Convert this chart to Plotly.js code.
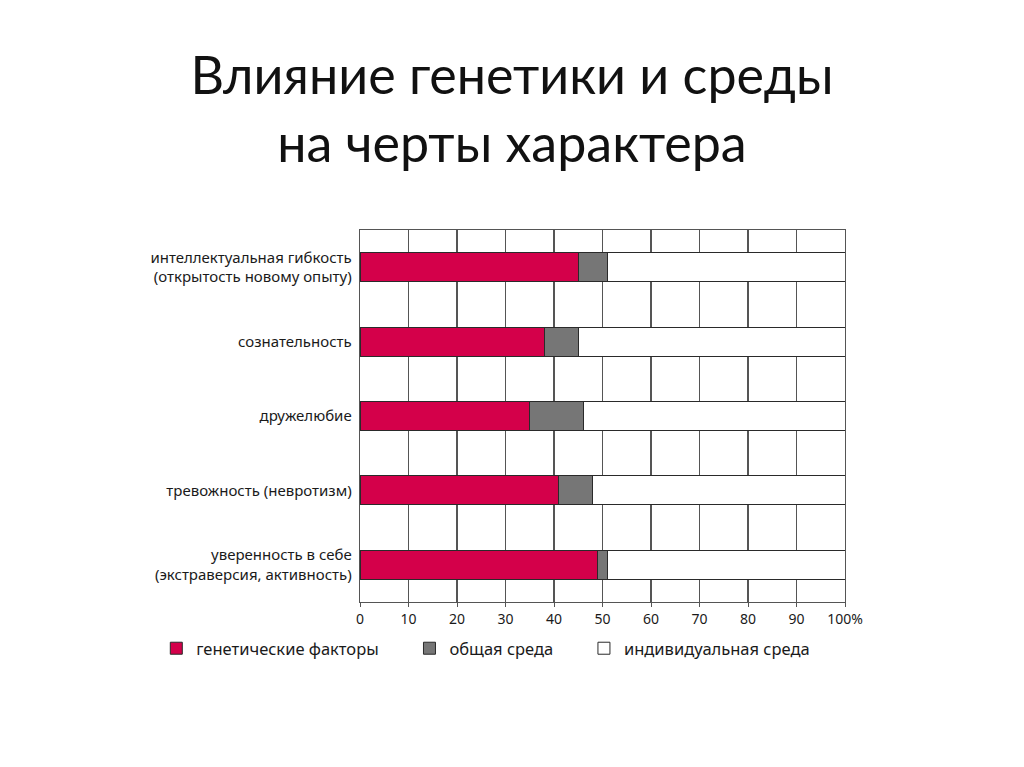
<!DOCTYPE html>
<html>
<head>
<meta charset="utf-8">
<script src="https://cdn.plot.ly/plotly-3.0.1.min.js"></script>
<style>
  html, body { margin: 0; padding: 0; background: #fff; }
  #plot { width: 1024px; height: 767px; }
</style>
</head>
<body>
<div id="plot"></div>
<script>
// черты характера, сверху вниз
var traits = [
  "интеллектуальная гибкость<br>(открытость новому опыту)",
  "сознательность",
  "дружелюбие",
  "тревожность (невротизм)",
  "уверенность в себе<br>(экстраверсия, активность)"
];
// доли в процентах
var genetic = [45, 38, 35, 41, 49];
var shared = [6, 7, 11, 7, 2];
var individual = [49, 55, 54, 52, 49];

var tickVals = [0, 10, 20, 30, 40, 50, 60, 70, 80, 90, 100];
var tickText = ["0", "10", "20", "30", "40", "50", "60", "70", "80", "90", "100%"];

var outline = { color: "#2a2a2a", width: 1 };
var pad = "\u00a0\u00a0\u00a0\u00a0\u00a0\u00a0"; // отступ между пунктами легенды

var trGen = {
  y: traits, x: genetic, name: "генетические факторы" + pad,
  type: "bar", orientation: "h",
  marker: { color: "#d4004a", line: outline },
  hoverinfo: "x+name"
};
var trShared = {
  y: traits, x: shared, name: "общая среда" + pad,
  type: "bar", orientation: "h",
  marker: { color: "#767676", line: outline },
  hoverinfo: "x+name"
};
var trInd = {
  y: traits, x: individual, name: "индивидуальная среда",
  type: "bar", orientation: "h",
  marker: { color: "#ffffff", line: outline },
  hoverinfo: "x+name"
};

var layout = {
  width: 1024, height: 767,
  paper_bgcolor: "#fff", plot_bgcolor: "#fff",
  margin: { l: 360, r: 179, t: 230, b: 165 },
  barmode: "stack",
  bargap: 0.61,
  font: { family: "Noto Sans, sans-serif", color: "#1a1a1a" },
  title: {
    text: "Влияние генетики и среды<br>на черты характера",
    font: { family: "Lato, sans-serif", size: 52, color: "#111" },
    x: 0.5, xref: "container", xanchor: "center",
    y: 0.877, yref: "container", yanchor: "top",
    pad: { t: 0, b: 0, l: 0, r: 0 }
  },
  xaxis: {
    range: [0, 100],
    tickvals: tickVals, ticktext: tickText,
    showgrid: true, gridcolor: "#555", gridwidth: 1.3,
    showline: true, linecolor: "#555", linewidth: 1.3, mirror: true,
    ticks: "outside", ticklen: 4, tickcolor: "#555",
    tickfont: { size: 14, color: "#1a1a1a" },
    zeroline: false, fixedrange: true
  },
  yaxis: {
    range: [4.5, -0.5],
    showgrid: false,
    showline: true, linecolor: "#555", linewidth: 1.3, mirror: true,
    ticks: "", ticklabelstandoff: 4,
    tickfont: { size: 15, color: "#1a1a1a" },
    zeroline: false, fixedrange: true
  },
  showlegend: true,
  legend: {
    orientation: "h",
    x: -0.42, xanchor: "left",
    y: -0.125, yanchor: "middle",
    font: { size: 16.5, color: "#1a1a1a" },
    traceorder: "normal",
    bgcolor: "rgba(0,0,0,0)"
  }
};

Plotly.newPlot("plot", [trGen, trShared, trInd], layout, { displayModeBar: false, staticPlot: true });
</script>
</body>
</html>
